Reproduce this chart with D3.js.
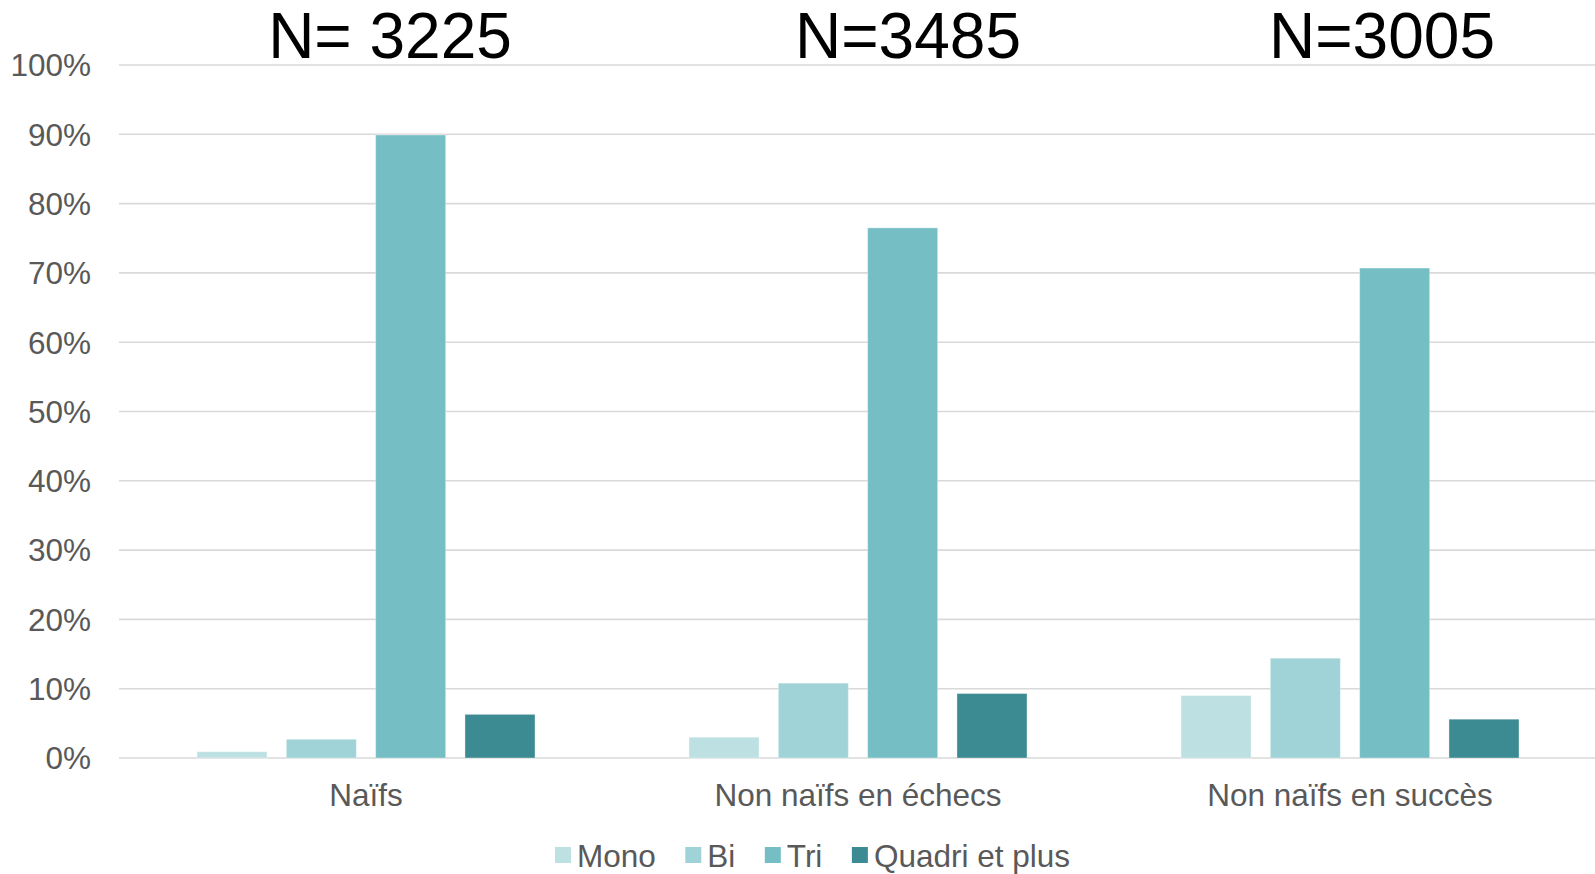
<!DOCTYPE html>
<html>
<head>
<meta charset="utf-8">
<script src="https://cdn.jsdelivr.net/npm/d3@7"></script>
<style>
  html, body { margin: 0; padding: 0; background: #ffffff; }
  svg { display: block; }
  text { font-family: "Liberation Sans", Arial, sans-serif; }
</style>
</head>
<body>
<svg id="chart" width="1595" height="874"></svg>
<script>
// Categories of patients and group sizes
const categories = ["Naïfs", "Non naïfs en échecs", "Non naïfs en succès"];
const groupTitles = ["N= 3225", "N=3485", "N=3005"];

// Series (share of patients, %)
const seriesNames = ["Mono", "Bi", "Tri", "Quadri et plus"];
const mono   = [0.9, 3.0, 9.0];
const bi     = [2.7, 10.8, 14.4];
const tri    = [89.9, 76.5, 70.7];
const quadri = [6.3, 9.3, 5.6];
const seriesValues = [mono, bi, tri, quadri];

// Y axis ticks
const yTicks = [0, 10, 20, 30, 40, 50, 60, 70, 80, 90, 100];

// Styling
const colors = ["#bde0e3", "#a0d3d7", "#74bec4", "#3d8b92"];
const gridColor = "#d9d9d9";
const labelColor = "#595959";
const labelSize = 31.5;

const svg = d3.select("#chart");
const W = 1595;
const plot = { left: 120, right: 1596, top: 65, bottom: 758 };

const x0 = d3.scaleBand()
  .domain(categories)
  .range([plot.left, plot.right])
  .paddingInner(0.313)
  .paddingOuter(0.1565);

const x1 = d3.scaleBand()
  .domain(seriesNames)
  .range([0, x0.bandwidth()])
  .paddingInner(0.216);

const y = d3.scaleLinear().domain([0, 100]).range([plot.bottom, plot.top]);

// Gridlines
svg.append("g")
  .selectAll("line")
  .data(yTicks)
  .join("line")
  .attr("x1", plot.left - 1)
  .attr("x2", W)
  .attr("y1", d => y(d))
  .attr("y2", d => y(d))
  .attr("stroke", gridColor)
  .attr("stroke-width", 1.6);

// Y axis labels
svg.append("g")
  .selectAll("text")
  .data(yTicks)
  .join("text")
  .attr("x", plot.left - 29)
  .attr("y", d => y(d))
  .attr("dy", "0.36em")
  .attr("text-anchor", "end")
  .attr("fill", labelColor)
  .attr("font-size", labelSize)
  .text(d => d + "%");

// Bars
const rows = categories.map((c, i) => ({
  cat: c,
  vals: seriesNames.map((s, k) => ({ s, k, v: seriesValues[k][i] }))
}));

svg.append("g")
  .selectAll("g")
  .data(rows)
  .join("g")
  .attr("transform", d => `translate(${x0(d.cat)},0)`)
  .selectAll("rect")
  .data(d => d.vals)
  .join("rect")
  .attr("x", d => x1(d.s))
  .attr("width", x1.bandwidth())
  .attr("y", d => y(d.v))
  .attr("height", d => y(0) - y(d.v))
  .attr("fill", d => colors[d.k])
  .attr("stroke", "#ffffff")
  .attr("stroke-opacity", 0.35)
  .attr("stroke-width", 1);

// Category labels
svg.append("g")
  .selectAll("text")
  .data(categories)
  .join("text")
  .attr("x", d => x0(d) + x0.bandwidth() / 2)
  .attr("y", 806)
  .attr("text-anchor", "middle")
  .attr("fill", labelColor)
  .attr("font-size", labelSize)
  .text(d => d);

// Group size titles above each category
const titleNudge = [24, 50, 32];
svg.append("g")
  .selectAll("text")
  .data(groupTitles)
  .join("text")
  .attr("x", (d, i) => x0(categories[i]) + x0.bandwidth() / 2 + titleNudge[i])
  .attr("y", 58)
  .attr("text-anchor", "middle")
  .attr("fill", "#000000")
  .attr("font-size", 64)
  .text(d => d);

// Legend
const legend = svg.append("g").attr("transform", "translate(555,0)");
let lx = 0;
seriesNames.forEach((name, k) => {
  legend.append("rect")
    .attr("x", lx)
    .attr("y", 847)
    .attr("width", 16)
    .attr("height", 16)
    .attr("fill", colors[k]);
  const t = legend.append("text")
    .attr("x", lx + 22)
    .attr("y", 867)
    .attr("fill", labelColor)
    .attr("font-size", labelSize)
    .text(name);
  lx += 22 + t.node().getComputedTextLength() + 29.5;
});
</script>
</body>
</html>
